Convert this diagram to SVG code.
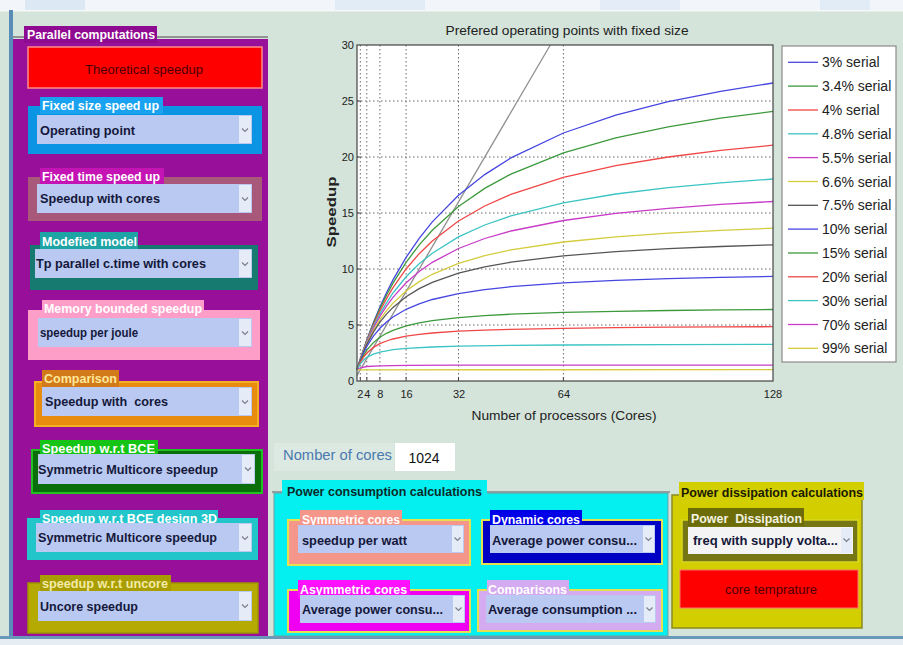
<svg xmlns="http://www.w3.org/2000/svg" xmlns:xlink="http://www.w3.org/1999/xlink" width="903" height="645" viewBox="0 0 903 645">
<style>
.t{font-family:"Liberation Sans",Arial,sans-serif}
.tag{font-family:"Liberation Sans",Arial,sans-serif;font-size:12px;font-weight:bold;fill:#ffffff}
.ddt{font-family:"Liberation Sans",Arial,sans-serif;font-size:12.5px;font-weight:bold;fill:#15183a}
.dd{fill:#b9c9f2}
.ab{fill:#e6ebf8}
.car{fill:none;stroke:#7a7f90;stroke-width:1.2}
.grid{stroke:#6a6a6a;stroke-width:1;stroke-dasharray:1.5 2.5;fill:none}
.cv{fill:none;stroke-width:1.3}
.tk{font-family:"Liberation Sans",Arial,sans-serif;font-size:11px;fill:#222}
.lg{font-family:"Liberation Sans",Arial,sans-serif;font-size:14px;fill:#222}
.btn{font-family:"Liberation Sans",Arial,sans-serif;font-size:12px;fill:#4a0000;text-anchor:middle}
</style>
<defs>
<path id="car" d="M-3,-1.5 L0,1.5 L3,-1.5" class="car"/>
</defs>

<!-- background -->
<rect x="0" y="0" width="903" height="645" fill="#d4e4da"/>
<rect x="0" y="0" width="903" height="10" fill="#f2f6fa"/>
<rect x="25" y="0" width="60" height="10" fill="#dde8f5"/>
<rect x="335" y="0" width="90" height="10" fill="#e2ecf7"/>
<rect x="600" y="0" width="80" height="10" fill="#e4edf7"/>
<rect x="820" y="0" width="50" height="10" fill="#e2ecf7"/>
<rect x="0" y="10" width="903" height="1.5" fill="#f6f8f6"/>
<rect x="9" y="10" width="4" height="630" fill="#5a8cb8"/>
<rect x="0" y="636" width="903" height="3" fill="#6a98b8"/>
<rect x="0" y="639" width="903" height="6" fill="#e6eef4"/>

<!-- Parallel computations panel -->
<g id="parallel-computations">
<line x1="13" y1="37" x2="268" y2="37" stroke="#7a7a7a" stroke-width="1.5"/>
<rect x="13" y="39" width="255" height="597" fill="#98109a"/>
<rect x="24" y="26" width="133" height="17" fill="#8e0a90"/>
<text class="tag" x="27" y="39" textLength="128" lengthAdjust="spacingAndGlyphs">Parallel computations</text>
</g>

<g id="theoretical-speedup">
<rect x="28" y="47" width="234" height="41" fill="#ff0000" stroke="#ff8a8a" stroke-width="1.5"/>
<text class="btn" x="144" y="74" textLength="118" lengthAdjust="spacingAndGlyphs">Theoretical speedup</text>
</g>

<g id="fixed-size-speed-up">
<rect x="28" y="106" width="234" height="48" fill="#0c94e4"/>
<rect x="40" y="97" width="123" height="17" fill="#18a2f0"/>
<text class="tag" x="42" y="110" textLength="117" lengthAdjust="spacingAndGlyphs">Fixed size speed up</text>
<rect class="dd" x="37" y="115" width="215" height="29"/>
<rect class="ab" x="239" y="116" width="12" height="27"/>
<use xlink:href="#car" x="245" y="130"/>
<text class="ddt" x="40" y="135" textLength="95" lengthAdjust="spacingAndGlyphs">Operating point</text>
</g>

<g id="fixed-time-speed-up">
<rect x="28" y="177" width="234" height="44" fill="#a85878"/>
<rect x="40" y="168" width="124" height="17" fill="#c414b4"/>
<text class="tag" x="42" y="181" textLength="118" lengthAdjust="spacingAndGlyphs">Fixed time speed up</text>
<rect class="dd" x="37" y="184" width="215" height="29"/>
<rect class="ab" x="239" y="185" width="12" height="27"/>
<use xlink:href="#car" x="245" y="199"/>
<text class="ddt" x="40" y="203" textLength="120" lengthAdjust="spacingAndGlyphs">Speedup with cores</text>
</g>

<g id="modefied-model">
<rect x="30" y="245" width="228" height="45" fill="#167a70"/>
<rect x="40" y="232" width="98" height="17" fill="#1ea4a4"/>
<text class="tag" x="42" y="246" textLength="95" lengthAdjust="spacingAndGlyphs">Modefied model</text>
<rect class="dd" x="35" y="249" width="217" height="29"/>
<rect class="ab" x="239" y="250" width="12" height="27"/>
<use xlink:href="#car" x="245" y="264"/>
<text class="ddt" x="36" y="268" textLength="170" lengthAdjust="spacingAndGlyphs">Tp parallel c.time with cores</text>
</g>

<g id="memory-bounded-speedup">
<rect x="28" y="310" width="232" height="50" fill="#fc9ec8"/>
<rect x="42" y="300" width="162" height="18" fill="#fc9ec8"/>
<text class="tag" x="44" y="313" textLength="158" lengthAdjust="spacingAndGlyphs" fill="#fff0f8">Memory bounded speedup</text>
<rect class="dd" x="38" y="318" width="214" height="29"/>
<rect class="ab" x="239" y="319" width="12" height="27"/>
<use xlink:href="#car" x="245" y="333"/>
<text class="ddt" x="40" y="337" textLength="98" lengthAdjust="spacingAndGlyphs">speedup per joule</text>
</g>

<g id="comparison">
<rect x="35" y="382" width="223" height="44" fill="#e88c10" stroke="#f4b020" stroke-width="2"/>
<rect x="42" y="370" width="77" height="17" fill="#d27a1a"/>
<text class="tag" x="44" y="383" textLength="73" lengthAdjust="spacingAndGlyphs" style="fill:#ffe89a">Comparison</text>
<rect class="dd" x="42" y="387" width="210" height="29"/>
<rect class="ab" x="239" y="388" width="12" height="27"/>
<use xlink:href="#car" x="245" y="402"/>
<text class="ddt" x="45" y="406" textLength="123" lengthAdjust="spacingAndGlyphs" xml:space="preserve">Speedup with  cores</text>
</g>

<g id="speedup-wrt-bce">
<rect x="32" y="450" width="230" height="43" fill="#0a6e0a" stroke="#22c022" stroke-width="2"/>
<rect x="40" y="440" width="118" height="17" fill="#16c416"/>
<text class="tag" x="42" y="453" textLength="113" lengthAdjust="spacingAndGlyphs">Speedup w.r.t BCE</text>
<rect class="dd" x="38" y="454" width="217" height="30"/>
<rect class="ab" x="242" y="455" width="12" height="28"/>
<use xlink:href="#car" x="248" y="469"/>
<text class="ddt" x="38" y="474" textLength="180" lengthAdjust="spacingAndGlyphs">Symmetric Multicore speedup</text>
</g>

<g id="speedup-wrt-bce-3d">
<rect x="27" y="518" width="231" height="42" fill="#22c6ca"/>
<rect x="40" y="510" width="178" height="17" fill="#22c6ca"/>
<text class="tag" x="42" y="523" textLength="175" lengthAdjust="spacingAndGlyphs">Speedup w.r.t BCE design 3D</text>
<rect class="dd" x="36" y="523" width="216" height="29"/>
<rect class="ab" x="239" y="524" width="12" height="27"/>
<use xlink:href="#car" x="245" y="538"/>
<text class="ddt" x="38" y="542" textLength="179" lengthAdjust="spacingAndGlyphs">Symmetric Multicore speedup</text>
</g>

<g id="speedup-wrt-uncore">
<rect x="28" y="583" width="230" height="50" fill="#b4aa02" stroke="#9c9400" stroke-width="1.5"/>
<rect x="40" y="575" width="131" height="18" fill="#a89e00"/>
<text class="tag" x="42" y="588" textLength="126" lengthAdjust="spacingAndGlyphs" style="fill:#f4eaa8">speedup w.r.t uncore</text>
<rect class="dd" x="38" y="591" width="214" height="30"/>
<rect class="ab" x="239" y="592" width="12" height="28"/>
<use xlink:href="#car" x="245" y="606"/>
<text class="ddt" x="40" y="611" textLength="98" lengthAdjust="spacingAndGlyphs">Uncore speedup</text>
</g>

<!-- Chart -->
<g id="chart">
<text class="t" x="567" y="35" font-size="13" fill="#222" text-anchor="middle" textLength="243" lengthAdjust="spacingAndGlyphs">Prefered operating points with fixed size</text>
<rect x="357" y="45" width="416" height="336" fill="#ffffff"/>
<g class="grid">
<line x1="360.3" y1="45" x2="360.3" y2="381"/>
<line x1="366.8" y1="45" x2="366.8" y2="381"/>
<line x1="379.9" y1="45" x2="379.9" y2="381"/>
<line x1="406.1" y1="45" x2="406.1" y2="381"/>
<line x1="458.5" y1="45" x2="458.5" y2="381"/>
<line x1="563.4" y1="45" x2="563.4" y2="381"/>
<line x1="357" y1="325" x2="773" y2="325"/>
<line x1="357" y1="269" x2="773" y2="269"/>
<line x1="357" y1="213" x2="773" y2="213"/>
<line x1="357" y1="157" x2="773" y2="157"/>
<line x1="357" y1="101" x2="773" y2="101"/>
</g>
<g id="curves">
<polyline class="cv" stroke="#909090" stroke-width="1" points="357,375.4 550.3,45"/>
<polyline class="cv" stroke="#4646e0" points="357,369.8 360.3,359.3 363.6,349.3 366.8,339.9 373.4,322.6 379.9,306.9 386.5,292.8 393,279.9 406.1,257.4 419.2,238.3 432.3,221.9 458.5,195.3 484.7,174.6 510.9,157.9 563.4,133 615.8,115.1 668.2,101.7 720.6,91.3 773,83"/>
<polyline class="cv" stroke="#3c9a3c" points="357,369.8 360.3,359.3 363.6,349.5 366.8,340.3 373.4,323.6 379.9,308.6 386.5,295.2 393,283.2 406.1,262.3 419.2,244.9 432.3,230.2 458.5,206.5 484.7,188.4 510.9,174.1 563.4,152.9 615.8,137.9 668.2,126.8 720.6,118.2 773,111.4"/>
<polyline class="cv" stroke="#f04646" points="357,369.8 360.3,359.5 363.6,349.9 366.8,341 373.4,325 379.9,311 386.5,298.6 393,287.7 406.1,269 419.2,253.7 432.3,241 458.5,221 484.7,206 510.9,194.3 563.4,177.4 615.8,165.6 668.2,157 720.6,150.4 773,145.2"/>
<polyline class="cv" stroke="#3cc4c4" points="357,369.8 360.3,359.6 363.6,350.3 366.8,341.8 373.4,326.8 379.9,313.9 386.5,302.8 393,293 406.1,276.8 419.2,263.8 432.3,253.2 458.5,236.9 484.7,225 510.9,215.9 563.4,202.9 615.8,194 668.2,187.6 720.6,182.8 773,179"/>
<polyline class="cv" stroke="#c83cc8" points="357,369.8 360.3,359.8 363.6,350.7 366.8,342.5 373.4,328.3 379.9,316.3 386.5,306.1 393,297.3 406.1,282.8 419.2,271.5 432.3,262.3 458.5,248.5 484.7,238.5 510.9,231 563.4,220.5 615.8,213.4 668.2,208.3 720.6,204.4 773,201.5"/>
<polyline class="cv" stroke="#d4cc3c" points="357,369.8 360.3,360 363.6,351.3 366.8,343.6 373.4,330.5 379.9,319.7 386.5,310.7 393,303.1 406.1,291 419.2,281.6 432.3,274.3 458.5,263.3 484.7,255.6 510.9,249.9 563.4,242 615.8,236.8 668.2,233.1 720.6,230.3 773,228.2"/>
<polyline class="cv" stroke="#555555" points="357,369.8 360.3,360.2 363.6,351.8 366.8,344.4 373.4,332.1 379.9,322.2 386.5,314.1 393,307.4 406.1,296.7 419.2,288.6 432.3,282.4 458.5,273.2 484.7,266.9 510.9,262.2 563.4,255.8 615.8,251.6 668.2,248.7 720.6,246.5 773,244.8"/>
<polyline class="cv" stroke="#4646e0" points="357,369.8 360.3,360.6 363.6,353 366.8,346.5 373.4,336.2 379.9,328.3 386.5,322.1 393,317 406.1,309.3 419.2,303.8 432.3,299.5 458.5,293.6 484.7,289.6 510.9,286.7 563.4,282.8 615.8,280.3 668.2,278.6 720.6,277.3 773,276.4"/>
<polyline class="cv" stroke="#3c9a3c" points="357,369.8 360.3,361.5 363.6,355.2 366.8,350.1 373.4,342.6 379.9,337.3 386.5,333.3 393,330.3 406.1,325.9 419.2,322.8 432.3,320.6 458.5,317.6 484.7,315.6 510.9,314.2 563.4,312.4 615.8,311.3 668.2,310.5 720.6,309.9 773,309.5"/>
<polyline class="cv" stroke="#f04646" points="357,369.8 360.3,362.3 363.6,357 366.8,353 373.4,347.4 379.9,343.7 386.5,341 393,339 406.1,336.2 419.2,334.3 432.3,333 458.5,331.2 484.7,330.1 510.9,329.3 563.4,328.3 615.8,327.7 668.2,327.2 720.6,326.9 773,326.7"/>
<polyline class="cv" stroke="#3cc4c4" points="357,369.8 360.3,363.8 363.6,360 366.8,357.4 373.4,354.1 379.9,352.1 393,349.7 406.1,348.4 432.3,347 458.5,346.2 510.9,345.4 563.4,345 668.2,344.6 773,344.3"/>
<polyline class="cv" stroke="#c83cc8" points="357,369.8 360.3,367.8 366.8,366.5 379.9,365.8 406.1,365.4 458.5,365.2 563.4,365.1 773,365.1"/>
<polyline class="cv" stroke="#d4cc3c" points="357,369.8 773,369.6"/>
</g>
<rect x="357" y="45" width="416" height="336" fill="none" stroke="#444" stroke-width="1.2"/>
<g stroke="#444" stroke-width="1">
<line x1="360.3" y1="381" x2="360.3" y2="377"/>
<line x1="366.8" y1="381" x2="366.8" y2="377"/>
<line x1="379.9" y1="381" x2="379.9" y2="377"/>
<line x1="406.1" y1="381" x2="406.1" y2="377"/>
<line x1="458.5" y1="381" x2="458.5" y2="377"/>
<line x1="563.4" y1="381" x2="563.4" y2="377"/>
<line x1="357" y1="325" x2="361" y2="325"/>
<line x1="357" y1="269" x2="361" y2="269"/>
<line x1="357" y1="213" x2="361" y2="213"/>
<line x1="357" y1="157" x2="361" y2="157"/>
<line x1="357" y1="101" x2="361" y2="101"/>
</g>
<g class="tk" text-anchor="end">
<text x="354" y="49">30</text>
<text x="354" y="105">25</text>
<text x="354" y="161">20</text>
<text x="354" y="217">15</text>
<text x="354" y="273">10</text>
<text x="354" y="329">5</text>
<text x="354" y="385">0</text>
</g>
<g class="tk" text-anchor="middle">
<text x="360.3" y="398">2</text>
<text x="367.3" y="398">4</text>
<text x="380.4" y="398">8</text>
<text x="406.6" y="398">16</text>
<text x="459" y="398">32</text>
<text x="563.9" y="398">64</text>
<text x="773" y="398">128</text>
</g>
<text class="t" x="564" y="420" font-size="13.5" fill="#222" text-anchor="middle" textLength="185" lengthAdjust="spacingAndGlyphs">Number of processors (Cores)</text>
<text class="t" transform="translate(336,212) rotate(-90)" font-size="13" font-weight="bold" fill="#222" text-anchor="middle" textLength="71" lengthAdjust="spacingAndGlyphs">Speedup</text>
</g>

<g id="legend">
<rect x="782" y="46" width="114" height="316" fill="#ffffff" stroke="#8a8a8a" stroke-width="1.2"/>
<g stroke-width="1.3">
<line x1="788" y1="62.3" x2="818" y2="62.3" stroke="#4646e0"/>
<line x1="788" y1="86.1" x2="818" y2="86.1" stroke="#3c9a3c"/>
<line x1="788" y1="110" x2="818" y2="110" stroke="#f04646"/>
<line x1="788" y1="133.8" x2="818" y2="133.8" stroke="#3cc4c4"/>
<line x1="788" y1="157.6" x2="818" y2="157.6" stroke="#c83cc8"/>
<line x1="788" y1="181.5" x2="818" y2="181.5" stroke="#d4cc3c"/>
<line x1="788" y1="205.3" x2="818" y2="205.3" stroke="#555555"/>
<line x1="788" y1="229.1" x2="818" y2="229.1" stroke="#4646e0"/>
<line x1="788" y1="253" x2="818" y2="253" stroke="#3c9a3c"/>
<line x1="788" y1="276.8" x2="818" y2="276.8" stroke="#f04646"/>
<line x1="788" y1="300.6" x2="818" y2="300.6" stroke="#3cc4c4"/>
<line x1="788" y1="324.5" x2="818" y2="324.5" stroke="#c83cc8"/>
<line x1="788" y1="348.3" x2="818" y2="348.3" stroke="#d4cc3c"/>
</g>
<g class="lg">
<text x="822" y="67.3">3% serial</text>
<text x="822" y="91.1">3.4% serial</text>
<text x="822" y="115">4% serial</text>
<text x="822" y="138.8">4.8% serial</text>
<text x="822" y="162.6">5.5% serial</text>
<text x="822" y="186.5">6.6% serial</text>
<text x="822" y="210.3">7.5% serial</text>
<text x="822" y="234.1">10% serial</text>
<text x="822" y="258">15% serial</text>
<text x="822" y="281.8">20% serial</text>
<text x="822" y="305.6">30% serial</text>
<text x="822" y="329.5">70% serial</text>
<text x="822" y="353.3">99% serial</text>
</g>
</g>

<g id="number-of-cores">
<rect x="274" y="443" width="120" height="28" fill="#dce9e2"/>
<text class="t" x="283" y="460" font-size="14" fill="#4a7aae" textLength="109" lengthAdjust="spacingAndGlyphs">Nomber of cores</text>
<rect x="395" y="443" width="60" height="28" fill="#ffffff"/>
<text class="t" x="424" y="463" font-size="14" fill="#111" text-anchor="middle">1024</text>
</g>

<!-- Power consumption -->
<g id="power-consumption">
<line x1="272" y1="492" x2="670" y2="492" stroke="#7a8a8a" stroke-width="1.5"/>
<rect x="274" y="493" width="394" height="143" fill="#04f0f0" stroke="#7a9aa0" stroke-width="1"/>
<rect x="282" y="480" width="205" height="18" fill="#04f0f0"/>
<text class="tag" x="287" y="496" textLength="195" lengthAdjust="spacingAndGlyphs" style="fill:#0a2a2a">Power consumption calculations</text>
</g>

<g id="symmetric-cores">
<rect x="288" y="520" width="182" height="45" fill="#f4968a" stroke="#e4e050" stroke-width="2"/>
<rect x="300" y="510" width="102" height="18" fill="#f4968a"/>
<text class="tag" x="302" y="524" textLength="98" lengthAdjust="spacingAndGlyphs">Symmetric cores</text>
<rect class="dd" x="298" y="525" width="166" height="28"/>
<rect class="ab" x="452" y="526" width="11" height="26"/>
<use xlink:href="#car" x="457.5" y="539"/>
<text class="ddt" x="302" y="545" textLength="105" lengthAdjust="spacingAndGlyphs">speedup per watt</text>
</g>

<g id="dynamic-cores">
<rect x="482" y="520" width="180" height="44" fill="#0000c4" stroke="#e4e050" stroke-width="2"/>
<rect x="490" y="510" width="92" height="18" fill="#0000e8"/>
<text class="tag" x="492" y="524" textLength="88" lengthAdjust="spacingAndGlyphs">Dynamic cores</text>
<rect class="dd" x="490" y="525" width="165" height="28"/>
<rect class="ab" x="643" y="526" width="11" height="26"/>
<use xlink:href="#car" x="648.5" y="539"/>
<text class="ddt" x="492" y="545" textLength="145" lengthAdjust="spacingAndGlyphs">Average power consu...</text>
</g>

<g id="asymmetric-cores">
<rect x="288" y="590" width="182" height="42" fill="#f000f0" stroke="#e4e050" stroke-width="2"/>
<rect x="298" y="580" width="112" height="18" fill="#ff10ff"/>
<text class="tag" x="300" y="594" textLength="107" lengthAdjust="spacingAndGlyphs">Asymmetric cores</text>
<rect class="dd" x="300" y="595" width="165" height="28"/>
<rect class="ab" x="453" y="596" width="11" height="26"/>
<use xlink:href="#car" x="458.5" y="609"/>
<text class="ddt" x="302" y="614" textLength="141" lengthAdjust="spacingAndGlyphs">Average power consu...</text>
</g>

<g id="comparisons">
<rect x="478" y="590" width="184" height="41" fill="#d4aaf0" stroke="#e4e050" stroke-width="2"/>
<rect x="487" y="580" width="82" height="18" fill="#d4aaf0"/>
<text class="tag" x="488" y="594" textLength="79" lengthAdjust="spacingAndGlyphs">Comparisons</text>
<rect class="dd" x="486" y="595" width="170" height="28"/>
<rect class="ab" x="644" y="596" width="11" height="26"/>
<use xlink:href="#car" x="649.5" y="609"/>
<text class="ddt" x="488" y="614" textLength="149" lengthAdjust="spacingAndGlyphs">Average consumption ...</text>
</g>

<!-- Power dissipation -->
<g id="power-dissipation">
<rect x="672" y="495" width="190" height="133" fill="#d2ce00" stroke="#8a8a20" stroke-width="1.5"/>
<rect x="679" y="482" width="185" height="18" fill="#d2ce00"/>
<text class="tag" x="681" y="497" textLength="182" lengthAdjust="spacingAndGlyphs" style="fill:#1a1a00">Power dissipation calculations</text>
</g>

<g id="power-dissipation-select">
<rect x="682" y="520" width="176" height="42" fill="#767614" stroke="#d8d820" stroke-width="1.5"/>
<rect x="688" y="508" width="116" height="18" fill="#6c6c08"/>
<text class="tag" x="691" y="523" textLength="111" lengthAdjust="spacingAndGlyphs" xml:space="preserve" style="fill:#f4f4e0">Power  Dissipation</text>
<rect x="688" y="527" width="165" height="27" fill="#f4f4f4"/>
<rect class="ab" x="841" y="528" width="11" height="25"/>
<use xlink:href="#car" x="846.5" y="540"/>
<text class="ddt" x="693" y="545" textLength="145" lengthAdjust="spacingAndGlyphs">freq with supply volta...</text>
</g>

<g id="core-temprature">
<rect x="680" y="570" width="178" height="38" fill="#ff0000" stroke="#ff7070" stroke-width="1"/>
<text class="btn" x="771" y="594" textLength="92" lengthAdjust="spacingAndGlyphs">core temprature</text>
</g>
</svg>
